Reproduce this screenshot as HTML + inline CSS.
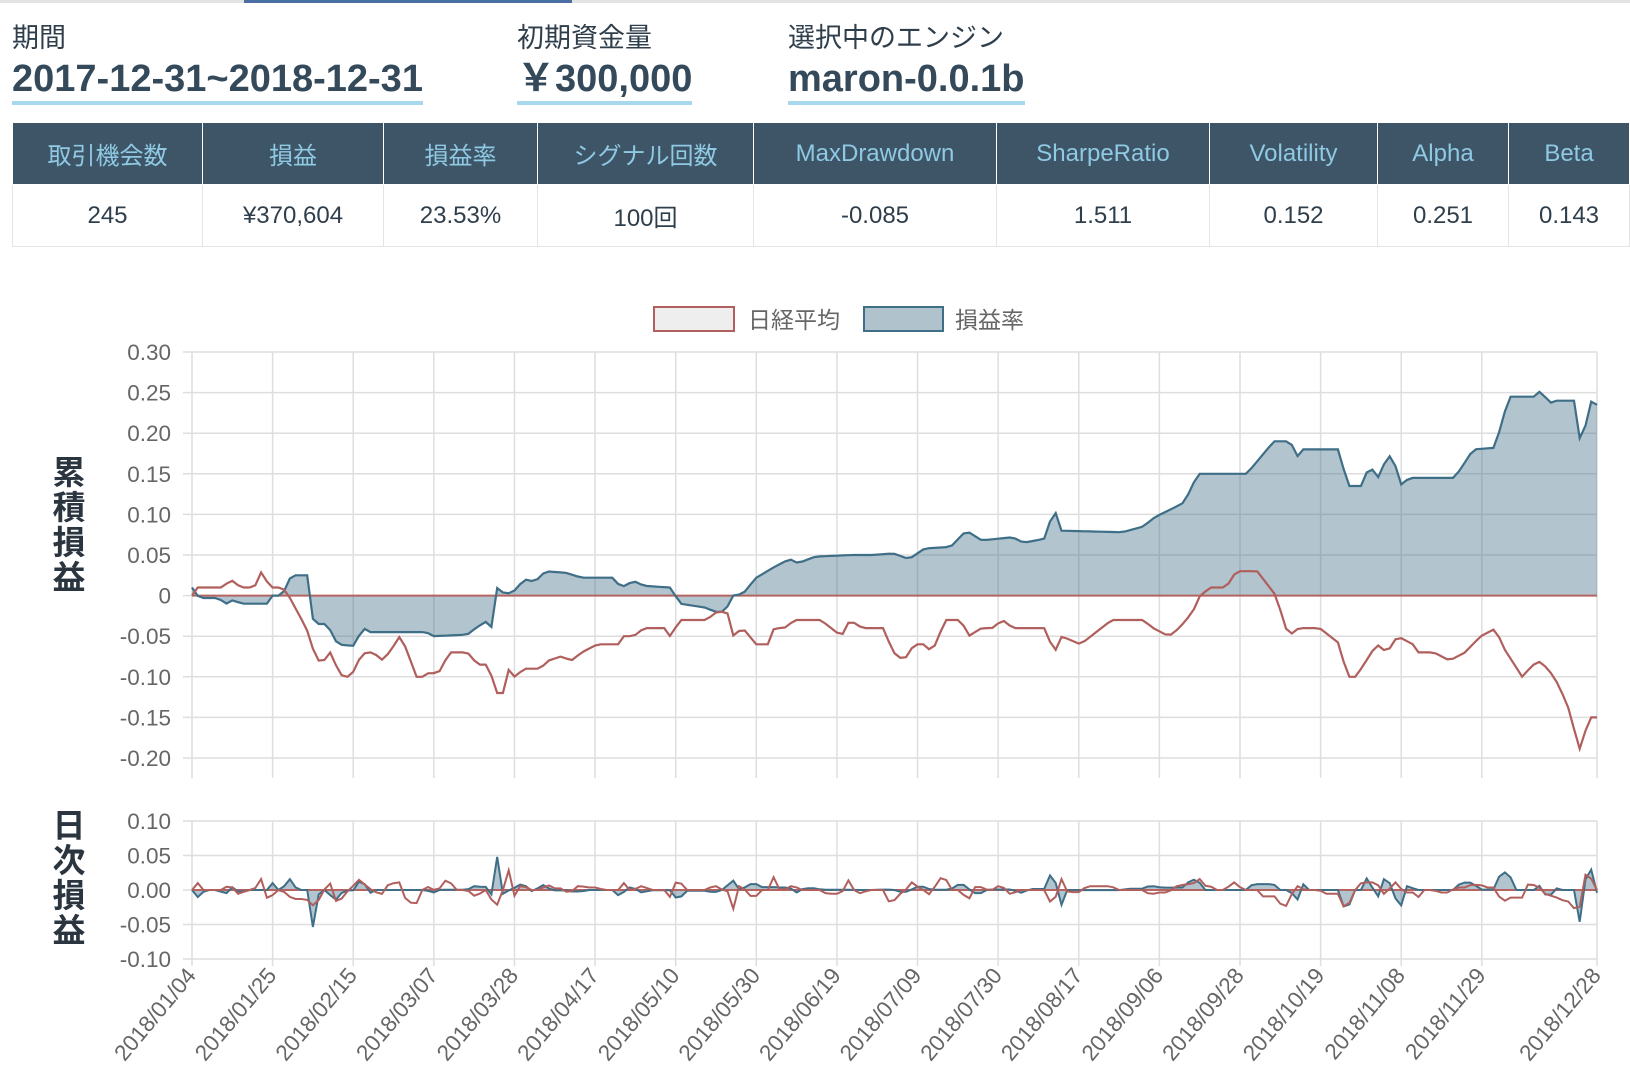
<!DOCTYPE html>
<html><head><meta charset="utf-8"><style>
body{margin:0;background:#fff;font-family:"Liberation Sans","Noto Sans CJK JP",sans-serif;width:1630px;height:1082px;overflow:hidden;position:relative;color:#2f3e4b}
.tab{position:absolute;top:0;left:0;width:1630px;height:3px;background:#e3e3e3}
.tab i{position:absolute;left:244px;width:328px;height:3px;background:#4a6fa5}
.lab{position:absolute;top:16px;font-size:27px;color:#2f3e4b}
.val{position:absolute;top:57px;font-size:38px;font-weight:bold;color:#34495a;border-bottom:4px solid #a8d8ee;line-height:44px;padding-bottom:0px}
table{position:absolute;left:12px;top:123px;border-collapse:collapse;width:1618px;table-layout:fixed}
th{background:#3d5566;color:#8fc9e3;font-weight:normal;font-size:24px;height:61px;border:1px solid #fff;border-top:0;padding:0}
td{text-align:center;font-size:24px;height:61px;border:1px solid #e4e4e4;color:#2f3e4b;padding:0}
</style></head><body>
<div class="tab"><i></i></div>
<div class="lab" style="left:12px">期間</div>
<div class="lab" style="left:517px">初期資金量</div>
<div class="lab" style="left:788px">選択中のエンジン</div>
<div class="val" style="left:12px">2017-12-31~2018-12-31</div>
<div class="val" style="left:517px">￥300,000</div>
<div class="val" style="left:788px">maron-0.0.1b</div>
<table><tr><th style="width:189px">取引機会数</th><th style="width:180px">損益</th><th style="width:153px">損益率</th><th style="width:215px">シグナル回数</th><th style="width:242px">MaxDrawdown</th><th style="width:212px">SharpeRatio</th><th style="width:167px">Volatility</th><th style="width:130px">Alpha</th><th>Beta</th></tr>
<tr><td>245</td><td>¥370,604</td><td>23.53%</td><td>100回</td><td>-0.085</td><td>1.511</td><td>0.152</td><td>0.251</td><td>0.143</td></tr></table>
<svg id="s" width="1630" height="1082" style="position:absolute;left:0;top:0" font-family="Liberation Sans, Noto Sans CJK JP, sans-serif"></svg>
<script>
var B=[[185,.01],[190,0],[195,-.003],[210,-.003],[218,-.01],[225,-.005],[232,-.01],[258,-.01],[262,0],[272,0],[278,.02],[283,.025],[296,.025],[302,-.035],[315,-.035],[325,-.06],[340,-.062],[350,-.04],[356,-.045],[410,-.045],[418,-.05],[450,-.048],[458,-.04],[468,-.032],[473,-.04],[478,.01],[485,.003],[493,.003],[505,.02],[515,.017],[525,.03],[545,.028],[560,.022],[590,.022],[598,.01],[610,.018],[620,.012],[645,.01],[655,-.01],[680,-.015],[688,-.02],[698,-.02],[705,0],[715,.002],[728,.022],[745,.035],[760,.045],[768,.04],[785,.048],[820,.05],[840,.05],[860,.052],[875,.045],[890,.058],[915,.06],[930,.08],[945,.068],[960,.07],[975,.072],[985,.065],[1005,.07],[1015,.108],[1020,.08],[1080,.078],[1100,.085],[1112,.097],[1125,.105],[1140,.115],[1153,.15],[1200,.15],[1226,.19],[1242,.19],[1248,.17],[1253,.18],[1290,.18],[1296,.135],[1310,.135],[1318,.16],[1327,.145],[1336,.175],[1345,.155],[1350,.13],[1355,.145],[1400,.145],[1418,.18],[1438,.182],[1445,.21],[1452,.245],[1478,.245],[1484,.255],[1490,.235],[1495,.24],[1515,.24],[1522,.18],[1530,.24],[1537,.235]];
var R=[[185,0],[190,.01],[215,.01],[222,.02],[232,.01],[245,.01],[252,.03],[260,.01],[272,.01],[278,0],[295,-.04],[305,-.08],[312,-.08],[318,-.07],[325,-.09],[330,-.1],[338,-.1],[345,-.08],[352,-.07],[360,-.07],[367,-.08],[375,-.07],[385,-.05],[393,-.07],[400,-.1],[410,-.1],[415,-.09],[420,-.1],[427,-.085],[432,-.07],[450,-.07],[460,-.085],[470,-.085],[478,-.12],[485,-.12],[490,-.09],[495,-.1],[505,-.09],[520,-.09],[528,-.08],[540,-.075],[550,-.08],[560,-.07],[575,-.06],[595,-.06],[600,-.05],[610,-.05],[620,-.04],[640,-.04],[645,-.05],[655,-.03],[680,-.03],[690,-.02],[700,-.02],[705,-.05],[715,-.04],[728,-.06],[740,-.06],[745,-.04],[755,-.04],[765,-.03],[790,-.03],[800,-.04],[810,-.05],[818,-.03],[830,-.04],[850,-.04],[860,-.07],[870,-.08],[880,-.06],[890,-.06],[897,-.07],[910,-.03],[925,-.03],[932,-.05],[945,-.04],[955,-.04],[965,-.03],[975,-.04],[1005,-.04],[1015,-.07],[1022,-.05],[1040,-.06],[1050,-.05],[1070,-.03],[1100,-.03],[1110,-.04],[1125,-.05],[1135,-.04],[1148,-.02],[1155,0],[1165,.01],[1180,.01],[1190,.03],[1210,.03],[1228,0],[1240,-.05],[1250,-.04],[1260,-.04],[1270,-.04],[1280,-.05],[1290,-.06],[1296,-.1],[1305,-.1],[1315,-.08],[1325,-.06],[1335,-.07],[1345,-.05],[1360,-.06],[1365,-.07],[1380,-.07],[1395,-.08],[1410,-.07],[1425,-.05],[1440,-.04],[1445,-.06],[1455,-.08],[1465,-.1],[1472,-.09],[1480,-.08],[1490,-.09],[1500,-.11],[1510,-.14],[1520,-.19],[1530,-.15],[1537,-.15]];
var N=245,X0=192,X1=1597,dx=(X1-X0)/(N-1);
function samp(K){var o=[];for(var i=0;i<N;i++){var sx=185+i*(1352/(N-1)),j=0;while(j<K.length-2&&K[j+1][0]<sx)j++;var a=K[j],b=K[j+1],t=(sx-a[0])/(b[0]-a[0]);t=Math.max(0,Math.min(1,t));o.push(a[1]+(b[1]-a[1])*t);}return o;}
var b=samp(B),r=samp(R);
var ym=function(v){return 352+(0.30-v)/0.05*40.6},yd=function(v){return 821+(0.10-v)/0.05*34.5};
var h='',g='#dedede';
var dates=['2018/01/04','2018/01/25','2018/02/15','2018/03/07','2018/03/28','2018/04/17','2018/05/10','2018/05/30','2018/06/19','2018/07/09','2018/07/30','2018/08/17','2018/09/06','2018/09/28','2018/10/19','2018/11/08','2018/11/29','2018/12/28'];
for(var k=0;k<18;k++){var x=k<17?X0+k*14*dx:X1;h+='<line x1="'+x+'" x2="'+x+'" y1="352" y2="778" stroke="'+g+'" stroke-width="1.5"/><line x1="'+x+'" x2="'+x+'" y1="821" y2="966" stroke="'+g+'" stroke-width="1.5"/>';
h+='<text transform="translate('+(x+5)+',976) rotate(-50)" text-anchor="end" font-size="22.5" fill="#666">'+dates[k]+'</text>';}
var ml=['0.30','0.25','0.20','0.15','0.10','0.05','0','-0.05','-0.10','-0.15','-0.20'];
for(k=0;k<11;k++){var y=352+k*40.6;h+='<line x1="183" x2="'+X1+'" y1="'+y+'" y2="'+y+'" stroke="'+g+'" stroke-width="1.5"/><text x="171" y="'+(y+8)+'" text-anchor="end" font-size="22.5" fill="#666">'+ml[k]+'</text>';}
var dl=['0.10','0.05','0.00','-0.05','-0.10'];
for(k=0;k<5;k++){var y=821+k*34.5;h+='<line x1="183" x2="'+X1+'" y1="'+y+'" y2="'+y+'" stroke="'+g+'" stroke-width="1.5"/><text x="171" y="'+(y+8)+'" text-anchor="end" font-size="22.5" fill="#666">'+dl[k]+'</text>';}
function pts(a,f){return a.map(function(v,i){return (X0+i*dx).toFixed(1)+','+f(v).toFixed(1)}).join(' ');}
h+='<polygon points="'+X0+','+ym(0)+' '+pts(b,ym)+' '+X1+','+ym(0)+'" fill="rgba(62,108,133,0.4)"/>';
h+='<line x1="'+X0+'" x2="'+X1+'" y1="'+ym(0)+'" y2="'+ym(0)+'" stroke="#b56461" stroke-width="2"/>';
h+='<polyline points="'+pts(b,ym)+'" fill="none" stroke="#3f6e87" stroke-width="2.2"/>';
h+='<polyline points="'+pts(r,ym)+'" fill="none" stroke="#b05f5c" stroke-width="2.2"/>';
var db=b.map(function(v,i){return i?v-b[i-1]:0}),dr=r.map(function(v,i){return i?v-r[i-1]:0});
h+='<polygon points="'+X0+','+yd(0)+' '+pts(db,yd)+' '+X1+','+yd(0)+'" fill="rgba(62,108,133,0.4)"/>';
h+='<line x1="'+X0+'" x2="'+X1+'" y1="'+yd(0)+'" y2="'+yd(0)+'" stroke="#b56461" stroke-width="2"/>';
h+='<polyline points="'+pts(db,yd)+'" fill="none" stroke="#3f6e87" stroke-width="2"/>';
h+='<polyline points="'+pts(dr,yd)+'" fill="none" stroke="#b05f5c" stroke-width="2"/>';
h+='<rect x="654" y="307" width="80" height="24" fill="#eee" stroke="#b05f5c" stroke-width="2"/><text x="748" y="328" font-size="23" fill="#666">日経平均</text>';
h+='<rect x="864" y="307" width="79" height="24" fill="#b0c3cc" stroke="#3f6e87" stroke-width="2"/><text x="955" y="328" font-size="23" fill="#666">損益率</text>';
var v1='累積損益',v2='日次損益';
for(k=0;k<4;k++){h+='<text x="69" y="'+(484+k*35)+'" text-anchor="middle" font-size="33" font-weight="bold" fill="#2a3540">'+v1[k]+'</text>';
h+='<text x="69" y="'+(837+k*35)+'" text-anchor="middle" font-size="33" font-weight="bold" fill="#2a3540">'+v2[k]+'</text>';}
document.getElementById('s').innerHTML=h;
</script>
</body></html>
